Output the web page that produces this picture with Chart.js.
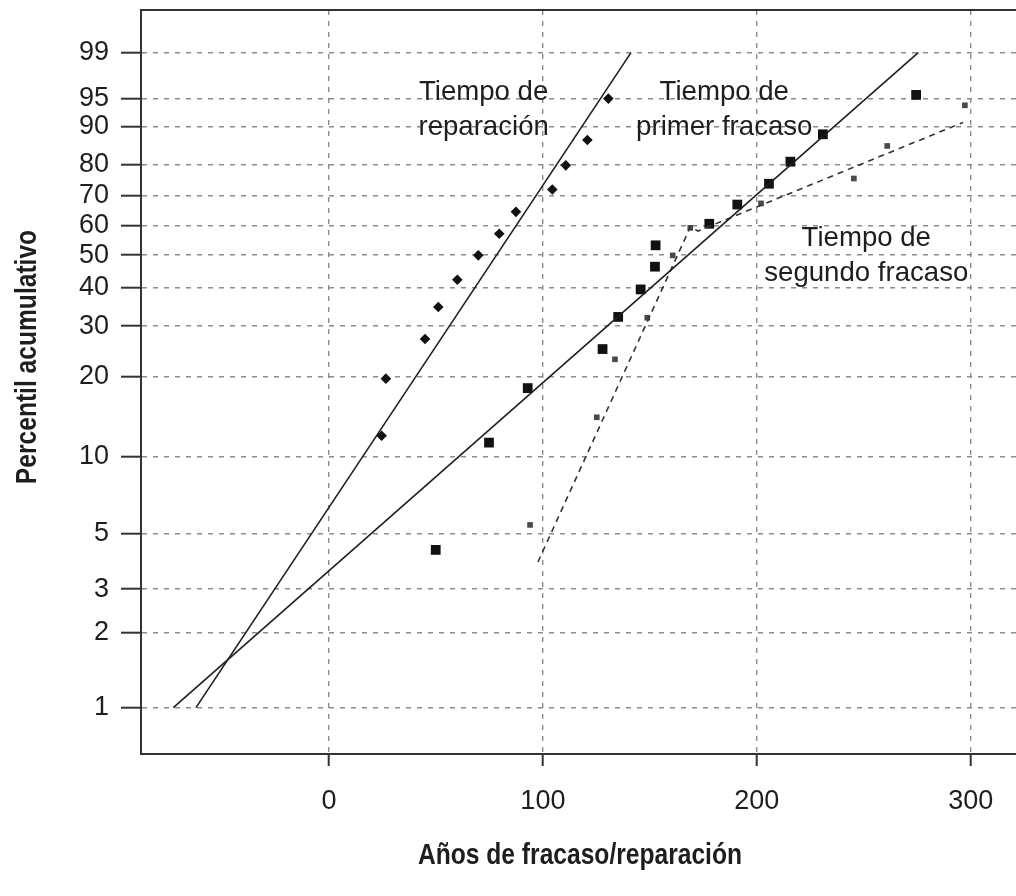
<!DOCTYPE html>
<html>
<head>
<meta charset="utf-8">
<script src="https://cdn.jsdelivr.net/npm/chart.js@4.4.0/dist/chart.umd.min.js"></script>
<style>html,body{margin:0;padding:0;background:#fff;}canvas{display:block;}</style>
</head>
<body>
<canvas id="c" width="1016" height="896"></canvas>
<script>
// ---- data (years, cumulative percentile) ----
const yTickPercents = [1, 2, 3, 5, 10, 20, 30, 40, 50, 60, 70, 80, 90, 95, 99];
const xTickValues = [0, 100, 200, 300];

const repairYears = [24.6, 26.6, 44.9, 51.1, 60.0, 69.8, 79.6, 87.4, 104.4, 110.7, 120.8, 130.6];
const repairPct   = [12.0, 19.6, 27.1, 34.7, 42.3, 49.9, 57.1, 64.6, 72.2, 79.9, 86.9, 95.0];

const firstYears = [49.9, 74.8, 92.9, 127.9, 135.2, 145.7, 152.4, 152.7, 177.8, 190.9, 205.7, 215.7, 230.9, 274.5];
const firstPct   = [4.3, 11.3, 18.1, 25.0, 32.2, 39.5, 46.3, 53.2, 60.5, 67.1, 74.1, 81.0, 88.3, 95.5];

const secondYears = [94.0, 125.2, 133.7, 148.8, 160.7, 168.9, 202.0, 245.4, 261.0, 297.3];
const secondPct   = [5.4, 14.1, 23.0, 32.0, 49.9, 59.1, 67.5, 75.8, 85.4, 94.0];

const repairFitYears = [-62.2, 141.2];
const repairFitPct   = [1, 99];
const firstFitYears  = [-72.8, 275.5];
const firstFitPct    = [1, 99];
const secondFitYears = [97.7, 169.0, 172.5, 296.4];
const secondFitPct   = [3.85, 59.5, 58.0, 90.9];

const labelTexts = [["Tiempo de", "reparación"], ["Tiempo de", "primer fracaso"], ["Tiempo de", "segundo fracaso"]];
const labelYears = [72.3, 184.8, 251.2];
const labelPct   = [94.8, 94.8, 53.1];

const xTitle = "Años de fracaso/reparación";
const yTitle = "Percentil acumulativo";

// Weibull probability transform
const wb = p => Math.log(-Math.log(1 - p / 100));
const pts = (xs, ps) => xs.map((x, i) => ({x: x, y: wb(ps[i])}));

Chart.defaults.font.family = "'Liberation Sans', Arial, Helvetica, sans-serif";
Chart.defaults.color = '#1a1a1a';

const ink = '#1e1e1e';

const decor = {
  id: 'decor',
  afterDatasetsDraw(chart) {
    const {ctx, chartArea: a, scales: {x, y}} = chart;
    ctx.save();
    // top frame line
    ctx.strokeStyle = '#333';
    ctx.lineWidth = 2;
    ctx.beginPath();
    ctx.moveTo(a.left - 1, a.top);
    ctx.lineTo(a.right, a.top);
    ctx.stroke();
    // in-plot labels
    ctx.fillStyle = ink;
    ctx.font = "27.6px 'Liberation Sans', Arial, sans-serif";
    ctx.textAlign = 'center';
    ctx.textBaseline = 'alphabetic';
    labelTexts.forEach((lines, i) => {
      const px = x.getPixelForValue(labelYears[i]);
      const py = y.getPixelForValue(wb(labelPct[i]));
      lines.forEach((t, j) => ctx.fillText(t, px, py + j * 35));
    });
    ctx.restore();
  },
  afterDraw(chart) {
    const {ctx} = chart;
    ctx.save();
    ctx.fillStyle = ink;
    ctx.font = "bold 30px 'Liberation Sans', Arial, sans-serif";
    ctx.textAlign = 'center';
    ctx.textBaseline = 'middle';
    // x title
    ctx.save();
    ctx.translate(580, 856);
    ctx.scale(0.82, 1);
    ctx.fillText(xTitle, 0, 0);
    ctx.restore();
    // y title
    ctx.save();
    ctx.translate(28, 357);
    ctx.rotate(-Math.PI / 2);
    ctx.scale(0.82, 1);
    ctx.fillText(yTitle, 0, 0);
    ctx.restore();
    ctx.restore();
  }
};

new Chart(document.getElementById('c'), {
  type: 'scatter',
  data: {
    datasets: [
      {label: 'Reparación ajuste', type: 'line', data: pts(repairFitYears, repairFitPct), borderColor: ink, borderWidth: 1.6, pointRadius: 0, fill: false, tension: 0},
      {label: 'Primer fracaso ajuste', type: 'line', data: pts(firstFitYears, firstFitPct), borderColor: ink, borderWidth: 1.6, pointRadius: 0, fill: false, tension: 0},
      {label: 'Segundo fracaso ajuste', type: 'line', data: pts(secondFitYears, secondFitPct), borderColor: '#333', borderWidth: 1.6, borderDash: [6, 5], pointRadius: 0, fill: false, tension: 0},
      {label: 'Tiempo de reparación', data: pts(repairYears, repairPct), pointStyle: 'rectRot', pointRadius: 5.3, backgroundColor: '#111', borderColor: '#111', borderWidth: 0},
      {label: 'Tiempo de primer fracaso', data: pts(firstYears, firstPct), pointStyle: 'rect', pointRadius: 6.9, backgroundColor: '#111', borderColor: '#111', borderWidth: 0},
      {label: 'Tiempo de segundo fracaso', data: pts(secondYears, secondPct), pointStyle: 'rect', pointRadius: 4.0, backgroundColor: '#4a4a4a', borderColor: '#4a4a4a', borderWidth: 0}
    ]
  },
  options: {
    responsive: false,
    animation: false,
    events: [],
    layout: {autoPadding: false, padding: {top: 10, right: 0, left: 0, bottom: 0}},
    plugins: {legend: {display: false}, tooltip: {enabled: false}},
    scales: {
      x: {
        type: 'linear',
        min: -87.9,
        max: 321.2,
        afterBuildTicks: s => { s.ticks = xTickValues.map(v => ({value: v})); },
        afterFit: s => { s.height = 142; s.paddingLeft = 0; s.paddingRight = 0; },
        grid: {color: '#8c8c8c', lineWidth: 1.4, drawTicks: true, tickLength: 12, tickColor: '#333', tickWidth: 2, tickBorderDash: []},
        border: {display: true, color: '#333', width: 2, dash: [5, 6]},
        ticks: {font: {size: 27}, color: ink, padding: 19, autoSkip: false, maxRotation: 0}
      },
      y: {
        type: 'linear',
        min: -5.034,
        max: 1.926,
        afterBuildTicks: s => { s.ticks = yTickPercents.map(p => ({value: wb(p)})); },
        afterFit: s => { s.width = 141; s.paddingTop = 0; s.paddingBottom = 0; },
        grid: {color: '#8c8c8c', lineWidth: 1.4, drawTicks: true, tickLength: 20, tickColor: '#333', tickWidth: 2, tickBorderDash: []},
        border: {display: true, color: '#333', width: 2, dash: [5, 6]},
        ticks: {font: {size: 27}, color: ink, padding: 12, autoSkip: false,
                callback: (v, i) => String(yTickPercents[i])}
      }
    }
  },
  plugins: [decor]
});
</script>
</body>
</html>
